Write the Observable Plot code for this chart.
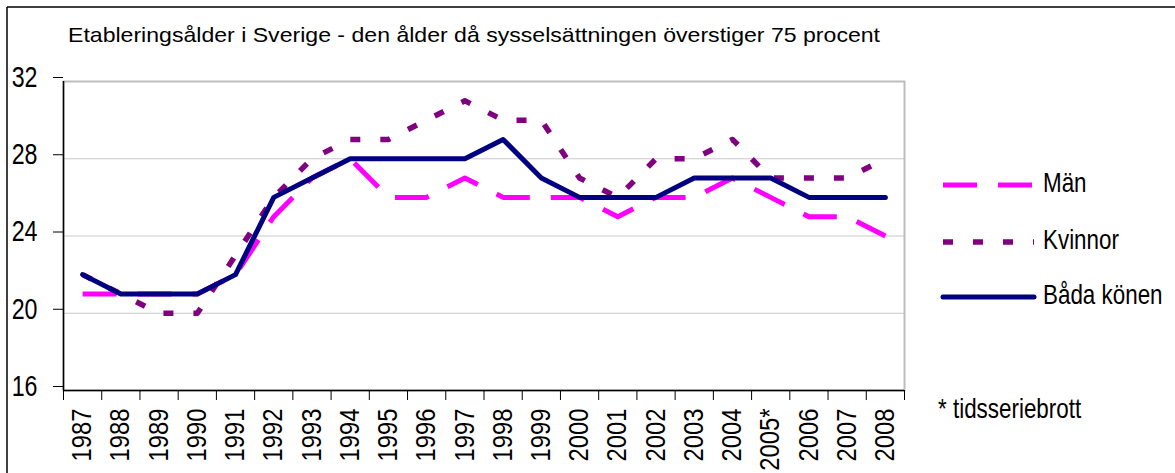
<!DOCTYPE html>
<html><head><meta charset="utf-8">
<script src="https://cdn.jsdelivr.net/npm/d3@7"></script>
<script src="https://cdn.jsdelivr.net/npm/@observablehq/plot@0.6"></script>
<style>body{margin:0;background:#fff;} svg{display:block;}</style>
</head><body><div id="chart"></div>
<script>
// ---- data ----
const years = [1987,1988,1989,1990,1991,1992,1993,1994,1995,1996,1997,1998,1999,2000,2001,2002,2003,2004,2005,2006,2007,2008];
const yearLabels = ["1987","1988","1989","1990","1991","1992","1993","1994","1995","1996","1997","1998","1999","2000","2001","2002","2003","2004","2005*","2006","2007","2008"];
const seriesNames = ["Män","Kvinnor","Båda könen"];
const man     = [21,21,21,21,22,25,27,28,26,26,27,26,26,26,25,26,26,27,26,25,25,24];
const kvinnor = [22,21,20,20,23,26,28,29,29,30,31,30,30,27,26,28,28,29,27,27,27,28];
const bada    = [22,21,21,21,22,26,27,28,28,28,28,29,27,26,26,26,27,27,27,26,26,26];
const yTicks = [16,20,24,28,32];
const titleText = "Etableringsålder i Sverige - den ålder då sysselsättningen överstiger 75 procent";
const footnoteText = "* tidsseriebrott";

// ---- font detection ----
function hasFont(name) {
  const c = document.createElement("canvas").getContext("2d");
  const s = "abcdefghijklmnopqrstuvwxyz0123456789ÅÄÖ";
  c.font = "40px monospace"; const a = c.measureText(s).width;
  c.font = `40px '${name}', monospace`; const b = c.measureText(s).width;
  return Math.abs(a - b) > 0.5;
}
const NARROW = hasFont("Liberation Sans Narrow");
const FONT = NARROW ? "'Liberation Sans Narrow', 'Liberation Sans', Arial, sans-serif" : "'Liberation Sans', Arial, sans-serif";

// ---- styles ----
const seriesStyle = {
  "Män":        {stroke: "#ff00ff", strokeWidth: 5, dash: "34,21", cap: "butt"},
  "Kvinnor":    {stroke: "#800080", strokeWidth: 5.5, dash: "10,20", cap: "butt"},
  "Båda könen": {stroke: "#000080", strokeWidth: 5, dash: null, cap: "round"}
};
const seriesValues = {"Män": man, "Kvinnor": kvinnor, "Båda könen": bada};

const rows = seriesNames.flatMap(s => years.map((yr, i) => ({series: s, year: yr, value: seriesValues[s][i]})));
const bounds = d3.range(years.length + 1).map(i => years[0] - 0.5 + i);

const lineMarks = seriesNames.map(s => Plot.line(rows.filter(r => r.series === s), {
  x: "year", y: "value",
  stroke: seriesStyle[s].stroke,
  strokeWidth: seriesStyle[s].strokeWidth,
  strokeDasharray: seriesStyle[s].dash || undefined,
  strokeLinecap: seriesStyle[s].cap,
  strokeLinejoin: "round"
}));

const chart = Plot.plot({
  width: 1175, height: 473,
  marginLeft: 63, marginRight: 271, marginTop: 81, marginBottom: 83,
  style: {fontFamily: FONT, background: "white", color: "#000"},
  x: {domain: [bounds[0], bounds[bounds.length - 1]], label: null},
  y: {domain: [yTicks[0], yTicks[yTicks.length - 1]], label: null},
  marks: [
    Plot.gridY({ticks: yTicks.slice(1, -1), stroke: "#c8c8c8", strokeOpacity: 1, strokeWidth: 1}),
    Plot.frame({stroke: "#bdbdbd", strokeWidth: 2}),
    ...lineMarks,
    Plot.ruleX([bounds[0]], {stroke: "#000", strokeWidth: 1.5}),
    Plot.ruleY([yTicks[0]], {stroke: "#000", strokeWidth: 1.5}),
    Plot.axisY({ticks: yTicks, tickSize: 10, tickPadding: 16, fontSize: 29, dy: -4, label: null, tickFormat: d => String(d)}),
    Plot.axisX({ticks: bounds, tickSize: 10, tickFormat: () => "", label: null}),
    Plot.axisX({ticks: years, tickSize: 0, tickPadding: 18, tickRotate: -90, fontSize: 27, label: null,
      tickFormat: d => yearLabels[years.indexOf(d)]})
  ]
});
document.getElementById("chart").append(chart);

const svg = d3.select(chart);
// outer frame (top and left edges visible)
svg.append("line").attr("x1", 7).attr("x2", 1175).attr("y1", 7).attr("y2", 7).attr("stroke", "#000").attr("stroke-width", 1.5);
svg.append("line").attr("x1", 7).attr("x2", 7).attr("y1", 7).attr("y2", 473).attr("stroke", "#000").attr("stroke-width", 1.5);

// legend
const legendY = [185, 242, 297];
const lg = svg.append("g").attr("font-family", FONT).attr("font-size", 28).attr("fill", "#000").attr("text-anchor", "start");
seriesNames.forEach((s, i) => {
  const st = seriesStyle[s];
  lg.append("line").attr("x1", 943).attr("x2", 1034).attr("y1", legendY[i]).attr("y2", legendY[i])
    .attr("stroke", st.stroke).attr("stroke-width", st.strokeWidth)
    .attr("stroke-dasharray", st.dash).attr("stroke-linecap", st.cap);
  lg.append("text").attr("x", 1043).attr("y", legendY[i] + 7).text(s);
});
// footnote
svg.append("text").attr("x", 938).attr("y", 418).attr("text-anchor", "start")
  .attr("font-family", FONT).attr("font-size", 28).text(footnoteText);

// x tick labels: condensed so that a 4-digit year is ~53px long
const xLabelNodes = svg.selectAll('g[aria-label="x-axis tick label"] text').nodes().filter(n => n.textContent);
if (xLabelNodes.length) {
  const ref = xLabelNodes.find(n => n.textContent === yearLabels[0]) || xLabelNodes[0];
  const k = 53 / ref.getComputedTextLength();
  xLabelNodes.forEach(n => {
    n.setAttribute("textLength", n.getComputedTextLength() * k);
    n.setAttribute("lengthAdjust", "spacingAndGlyphs");
  });
}

// condense the other texts if no narrow font available
if (!NARROW) {
  svg.selectAll("text").each(function() {
    if (xLabelNodes.includes(this)) return;
    const t = d3.select(this);
    if (!t.text()) return;
    const w = this.getComputedTextLength();
    if (w > 0) t.attr("textLength", w * 0.8).attr("lengthAdjust", "spacingAndGlyphs");
  });
}

// title
svg.append("text").attr("x", 68).attr("y", 42).attr("text-anchor", "start")
  .attr("font-family", FONT).attr("font-size", 21)
  .attr("textLength", 812).attr("lengthAdjust", "spacingAndGlyphs").text(titleText);
</script>
</body></html>
